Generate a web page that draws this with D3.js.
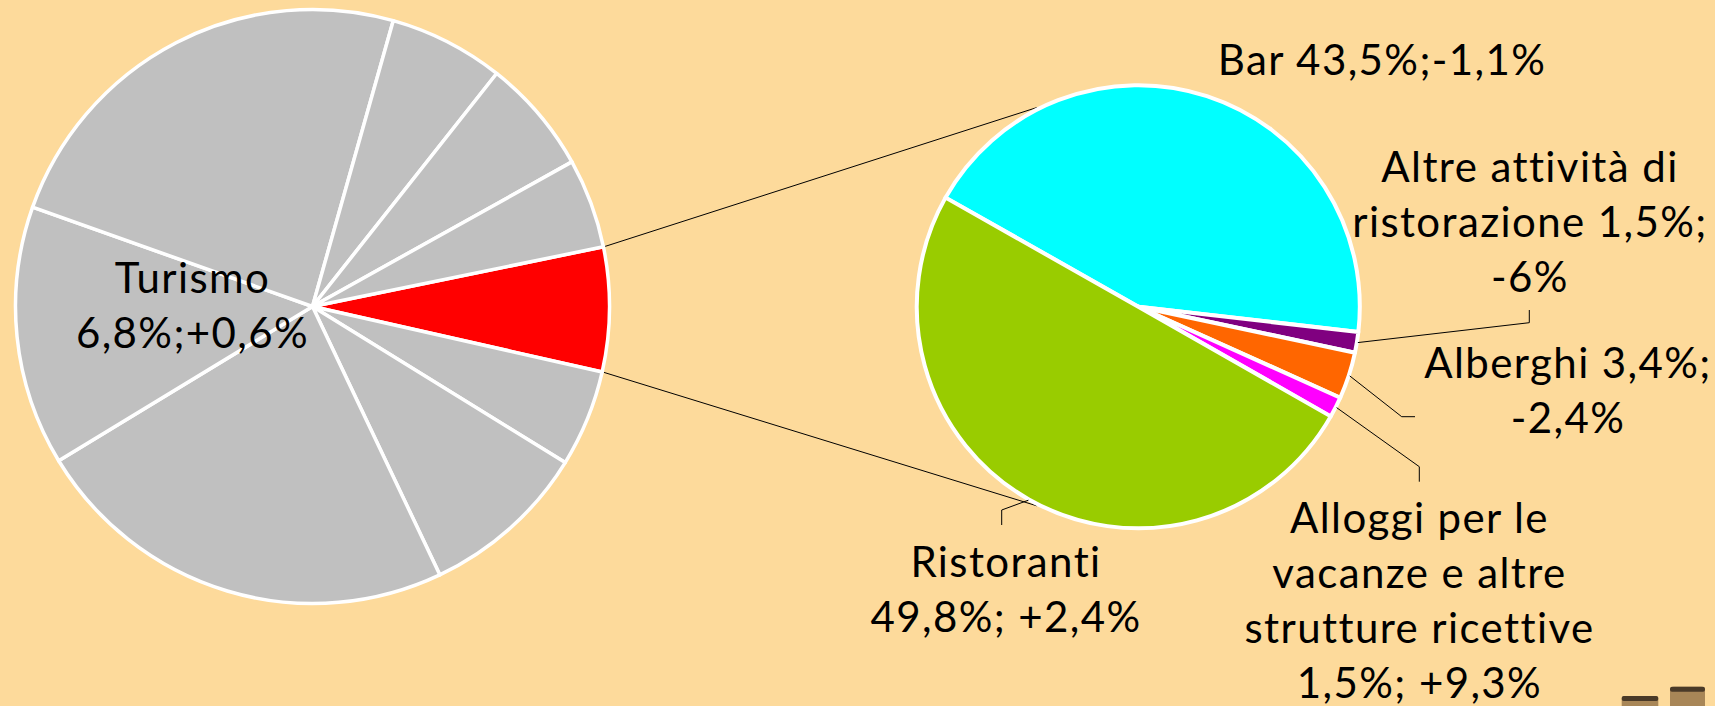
<!DOCTYPE html>
<html>
<head>
<meta charset="utf-8">
<script src="https://cdn.jsdelivr.net/npm/d3@7"></script>
<style>
  html, body { margin: 0; padding: 0; background: #FDDA9B; overflow: hidden; }
  text { font-family: "Lato", sans-serif; fill: #000; }
</style>
</head>
<body>
<div id="chart"></div>
<script>
// primo grafico: Turismo (rosso) + altri settori (grigi, senza etichetta)
const settori = ["Turismo", "s1", "s2", "s3", "s4", "s5", "s6", "s7", "s8"];
const quoteSettori = [6.8, 5.3, 9.2, 23.5, 14.2, 24.1, 6.3, 6.3, 4.9];
const turismoTesto = ["Turismo", "6,8%;+0,6%"];

// secondo grafico: comparti del turismo
const comparti = ["Bar", "Altre attività di ristorazione", "Alberghi",
  "Alloggi per le vacanze e altre strutture ricettive", "Ristoranti"];
const quoteComparti = [43.5, 1.5, 3.4, 1.5, 49.8];
const coloriComparti = ["#00FFFF", "#800080", "#FF6600", "#FF00FF", "#99CC00"];
const etichette = [
  ["Bar 43,5%;-1,1%"],
  ["Altre attività di", "ristorazione 1,5%;", "-6%"],
  ["Alberghi 3,4%;", "-2,4%"],
  ["Alloggi per le", "vacanze e altre", "strutture ricettive", "1,5%; +9,3%"],
  ["Ristoranti", "49,8%; +2,4%"]
];

const W = 1715, H = 706;
const deg = Math.PI / 180;
const lineH = 55;

const svg = d3.select('#chart')
  .append('svg')
  .attr('width', W)
  .attr('height', H);

svg.append('rect').attr('width', W).attr('height', H).attr('fill', '#FDDA9B');

// --- pie 1
const c1 = [312.5, 306.5], r1 = 297;
const start1 = 78.4 * deg;
const pie1 = d3.pie().sort(null).value(d => d)
  .startAngle(start1).endAngle(start1 + 2 * Math.PI);
const arc1 = d3.arc().innerRadius(0).outerRadius(r1);
const p1 = pie1(quoteSettori);

// --- pie 2
const c2 = [1138.3, 306.7], r2 = 221.5;
const start2 = 299.5 * deg;
const pie2 = d3.pie().sort(null).value(d => d)
  .startAngle(start2).endAngle(start2 + 2 * Math.PI);
const arc2 = d3.arc().innerRadius(0).outerRadius(r2);
const p2 = pie2(quoteComparti);

// punto su una circonferenza (angolo d3: da ore 12, senso orario)
function pt(c, r, a) {
  return [c[0] + r * Math.sin(a), c[1] - r * Math.cos(a)];
}

// connettori tra i due grafici
const tur = p1[0];
const conn = [
  [pt(c1, r1 + 1.5, tur.startAngle), pt(c2, r2 + 2, -27 * deg)],
  [pt(c1, r1 + 1.5, tur.endAngle), pt(c2, r2 + 2, 207 * deg)]
];
svg.selectAll('line.conn')
  .data(conn)
  .enter()
  .append('line')
  .attr('class', 'conn')
  .attr('x1', d => d[0][0]).attr('y1', d => d[0][1])
  .attr('x2', d => d[1][0]).attr('y2', d => d[1][1])
  .attr('stroke', '#000')
  .attr('stroke-width', 1);

const g1 = svg.append('g').attr('transform', `translate(${c1[0]},${c1[1]})`);
g1.selectAll('path')
  .data(p1)
  .enter()
  .append('path')
  .attr('fill', (d, i) => i === 0 ? '#FF0000' : '#C0C0C0')
  .attr('stroke', '#fff')
  .attr('stroke-width', 3.5)
  .attr('stroke-linejoin', 'round')
  .attr('d', arc1);

const g2 = svg.append('g').attr('transform', `translate(${c2[0]},${c2[1]})`);
g2.selectAll('path')
  .data(p2)
  .enter()
  .append('path')
  .attr('fill', (d, i) => coloriComparti[i])
  .attr('stroke', '#fff')
  .attr('stroke-width', 4)
  .attr('stroke-linejoin', 'round')
  .attr('d', arc2);

// linee guida delle etichette (null = nessuna linea)
const guide = [
  null,
  [[1529.3, 322.7], [1529.3, 310]],
  [[1401.7, 416.7], [1415, 416.7]],
  [[1419.3, 466.7], [1419.3, 481.7]],
  [[1001.7, 510], [1001.7, 525]]
];
const line = d3.line();
p2.forEach((d, i) => {
  if (!guide[i]) return;
  const mid = (d.startAngle + d.endAngle) / 2;
  const pts = [pt(c2, r2 + 1, mid)].concat(guide[i]);
  svg.append('path')
    .attr('d', line(pts))
    .attr('fill', 'none')
    .attr('stroke', '#000')
    .attr('stroke-width', 1);
});

// posizione etichette: centro x, prima linea di base
const posEtichette = [
  [1382, 75],
  [1530, 181.7],
  [1568, 378.3],
  [1419.5, 533.3],
  [1006, 576.7]
];

function scrivi(lines, x, y) {
  const t = svg.append('text')
    .attr('text-anchor', 'middle')
    .attr('font-size', 42)
    .attr('letter-spacing', 1.4);
  lines.forEach((s, k) => {
    t.append('tspan').attr('x', x).attr('y', y + k * lineH).text(s);
  });
}

etichette.forEach((lines, i) => scrivi(lines, posEtichette[i][0], posEtichette[i][1]));
scrivi(turismoTesto, 192.5, 293.3);

// decorazione in basso a destra (barili)
const barili = [[1621.7, 696, 36.6], [1670, 686.7, 35]];
barili.forEach(b => {
  svg.append('rect').attr('x', b[0]).attr('y', b[1]).attr('width', b[2]).attr('height', 30)
    .attr('rx', 4).attr('fill', '#A88657');
  svg.append('rect').attr('x', b[0]).attr('y', b[1]).attr('width', b[2]).attr('height', 5)
    .attr('rx', 2).attr('fill', '#4A3A28');
});
</script>
</body>
</html>
